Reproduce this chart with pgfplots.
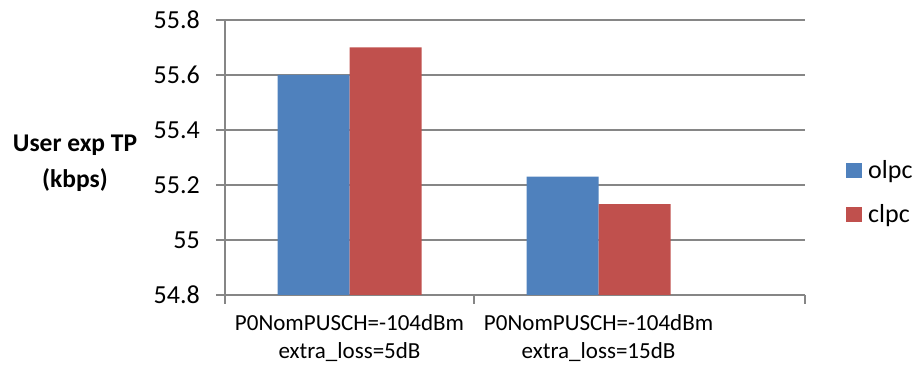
\documentclass[border=0pt]{standalone}
\usepackage{pgfplots}
\pgfplotsset{compat=1.18}
\usepackage{fontspec}
\setmainfont{Carlito}
\definecolor{cblue}{HTML}{4F81BD}
\definecolor{cred}{HTML}{C0504D}
\definecolor{cgray}{HTML}{868686}
\begin{document}
\fontsize{24pt}{29pt}\selectfont
\begin{tikzpicture}[x=1pt,y=1pt]
\useasboundingbox (-225,-79) rectangle (693,295);
\begin{axis}[
  at={(0,0)}, anchor=south west,
  scale only axis, width=580pt, height=275pt,
  ybar=0pt, bar width=72pt,
  xmin=-0.5, xmax=1.829, ymin=54.8, ymax=55.8,
  ytick={54.8,55,55.2,55.4,55.6,55.8},
  yticklabels={54.8,55,55.2,55.4,55.6,55.8},
  axis lines=left, axis line style={-, cgray, line width=1.3pt},
  ymajorgrids, grid style={cgray, line width=1.3pt},
  tick style={cgray, line width=1.3pt},
  major tick length=9pt, tick align=outside,
  xtick={-0.5,0.5,1.829}, xticklabels={},
  extra x ticks={0,1},
  extra x tick labels={{P0NomPUSCH=-104dBm\\extra\_loss=5dB},{P0NomPUSCH=-104dBm\\extra\_loss=15dB}},
  extra x tick style={major tick length=0pt, grid=none},
  xticklabel style={align=center, font=\fontsize{23pt}{28pt}\selectfont, yshift=-11pt},
  yticklabel style={font=\fontsize{26pt}{30pt}\selectfont, xshift=-8pt},
  /pgf/number format/assume math mode=true,
  legend style={at={(rel axis cs:1.0707,0.371)}, anchor=west, draw=none, fill=none,
    inner sep=0pt, nodes={inner sep=0pt},
    font=\fontsize{26pt}{30pt}\selectfont, row sep=22pt,
    /tikz/every odd column/.append style={column sep=6pt}},
  legend cell align=left,
  legend image code/.code={\fill[#1] (0pt,-7pt) rectangle (16pt,8pt);},
  clip=false,
]
\addplot[fill=cblue, draw=none] coordinates {(0,55.6) (1,55.23)};
\addplot[fill=cred, draw=none] coordinates {(0,55.7) (1,55.13)};
\legend{olpc,clpc}
\end{axis}
\node[font=\bfseries\fontsize{25.5pt}{36pt}\selectfont, align=center] at (-150,131.5) {User exp TP\\(kbps)};
\end{tikzpicture}
\end{document}
